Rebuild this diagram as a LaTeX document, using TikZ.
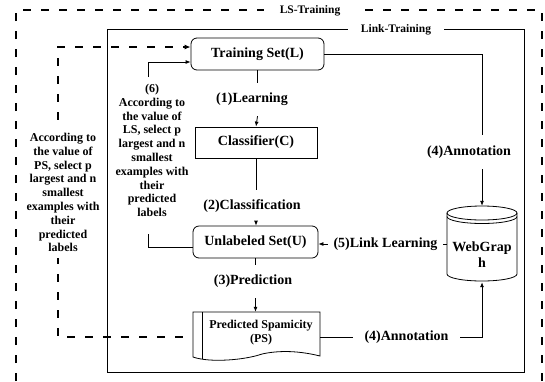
\documentclass[tikz,border=0pt]{standalone}
\usepackage{fontspec}
\setmainfont{Liberation Serif}
\usetikzlibrary{arrows.meta}
\begin{document}
\begin{tikzpicture}[x=1pt,y=-1pt,
  ln/.style={line width=0.8pt},
  arr/.style={ln,-{Latex[length=5pt,width=4pt]}},
  dsh/.style={line width=1.3pt,dash pattern=on 8pt off 10pt},
  mainfont/.style={font=\fontsize{14}{16}\selectfont\bfseries},
  box/.style={draw,ln,mainfont,inner sep=0pt},
  rbox/.style={box,rounded corners=6pt},
  lab/.style={mainfont,inner sep=0pt,minimum height=33pt},
  labh/.style={mainfont,inner sep=0pt},
  note/.style={font=\fontsize{12}{13.8}\selectfont\bfseries,align=center,inner sep=1pt},
  frametext/.style={font=\fontsize{11.5}{13}\selectfont\bfseries,fill=white,inner ysep=1pt}
]
\useasboundingbox (0,0) rectangle (545,381);

% outer dashed frame (LS-Training)
\draw[dsh] (16,381) -- (16,10) -- (542,10) -- (542,381);
\node[frametext,inner xsep=16pt] (LS) at (310,11) {LS-Training};

% inner solid frame (Link-Training)
\draw[ln] (107,29) rectangle (524,372);
\node[frametext,inner xsep=13pt] (LT) at (396,30) {Link-Training};

% main nodes
\node[rbox,minimum width=133pt,minimum height=32pt] (TS) at (257.5,54) {Training Set(L)};
\node[box,minimum width=122pt,minimum height=31pt] (CL) at (256,142.5) {Classifier(C)};
\node[rbox,minimum width=125pt,minimum height=32pt] (US) at (255.5,242) {Unlabeled Set(U)};

% predicted spamicity document shape
\node[minimum width=127pt,minimum height=50pt,inner sep=0pt] (PS) at (256.5,337) {};
\draw[ln] (193,312) -- (320,312) -- (320,356)
  .. controls (300,351) and (280,350) .. (262,354)
  .. controls (245,360) and (210,363) .. (193,357) -- cycle;
\draw[ln] (202,312) -- (202,359);
\node[font=\fontsize{12}{14}\selectfont\bfseries,align=center,inner sep=0pt] (PSt) at (261,333) {Predicted Spamicity\\(PS)};

% WebGraph cylinder
\node[minimum width=70pt,minimum height=76pt,inner sep=0pt] (WG) at (482,244) {};
\draw[ln] (482,213) ellipse [x radius=35pt,y radius=7pt];
\draw[ln] (447,216.5) arc[start angle=180,end angle=360,x radius=35pt,y radius=7pt];
\draw[ln] (447,213) -- (447,274) arc[start angle=180,end angle=360,x radius=35pt,y radius=7pt] -- (517,213);
\node[mainfont,align=center,inner sep=0pt] (WGt) at (482,255) {WebGrap\\h};

% edge labels
\node[lab] (L1) at (252,99.5) {(1)Learning};
\node[lab] (L2) at (252,206.5) {(2)Classification};
\node[lab] (L3) at (253,281.5) {(3)Prediction};
\node[lab,minimum height=34pt] (A1) at (469,152) {(4)Annotation};
\node[labh,minimum width=107pt] (A2) at (406.5,337) {(4)Annotation};
\node[labh,minimum width=115pt] (L5) at (385.5,244) {(5)Link Learning};

% connectors
\draw[ln] (TS.south) -- (TS.south |- L1.north);
\draw[arr] (TS.south |- L1.south) -- (CL.north);
\draw[ln] (CL.south) -- (CL.south |- L2.north);
\draw[arr] (CL.south |- L2.south) -- (CL.south |- US.north);
\draw[ln] (US.south) -- (US.south |- L3.north);
\draw[arr] (US.south |- L3.south) -- (US.south |- PS.north);

\draw[ln] (TS.east) -| (WG.north |- A1.north);
\draw[arr] (WG.north |- A1.south) -- (WG.north);
\draw[ln] (PS.east) -- (A2.west);
\draw[arr] (A2.east) -| (WG.south);
\draw[ln] (WG.west) -- (L5.east);
\draw[arr] (L5.west) -- (US.east |- L5.west);

% (6) feedback
\coordinate (c6t) at (148,77);
\coordinate (c6b) at (148,234);
\draw[arr] (c6t) |- ([yshift=-8pt]TS.west);
\draw[ln] (c6b) |- ([yshift=-5pt]US.west);
\node[note] (T6) at (152,150.5) {(6)\\According to\\the value of\\LS, select p\\largest and n\\smallest\\examples with\\their\\predicted\\labels};

% PS feedback (dashed)
\coordinate (dL) at (58,47);
\draw[dsh,-{Latex[length=6pt,width=5pt]}] ([xshift=-10pt]PS.west) -| (dL) -- ([yshift=7pt]TS.west);
\node[note,fill=white,inner ysep=6pt] (T7) at (63,192.5) {According to\\the value of\\PS, select p\\largest and n\\smallest\\examples with\\their\\predicted\\labels};
\end{tikzpicture}
\end{document}
